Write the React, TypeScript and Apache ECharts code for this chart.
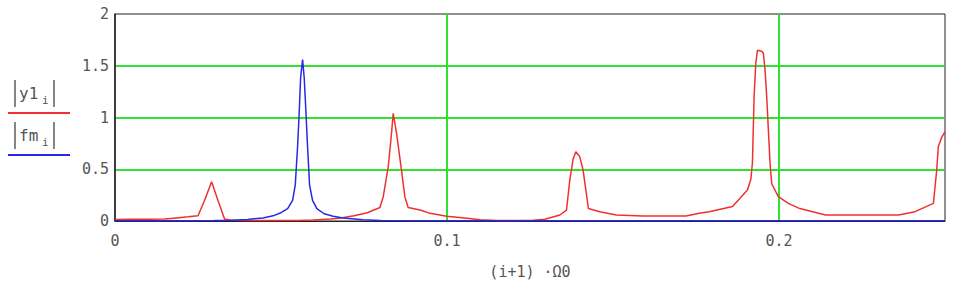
import React, { useEffect, useRef } from "react";
import * as echarts from "echarts";

// |y1_i| (red) sample positions and magnitudes
const y1X = [
  0, 0.005, 0.01, 0.015, 0.0185, 0.022, 0.025, 0.027, 0.0291, 0.031, 0.033, 0.035, 0.04, 0.045, 0.05, 0.055,
  0.0597, 0.065, 0.068, 0.072, 0.076, 0.0798, 0.0808, 0.0823, 0.0833, 0.0838, 0.0848, 0.0863, 0.0873, 0.0883,
  0.0919, 0.0949, 0.0999, 0.106, 0.11, 0.115, 0.12, 0.126, 0.1295, 0.134, 0.136, 0.137, 0.138, 0.1388, 0.14,
  0.141, 0.1426, 0.146, 0.151, 0.159, 0.172, 0.176, 0.179, 0.186, 0.1905, 0.1915, 0.192, 0.1925, 0.193, 0.1935,
  0.1948, 0.1953, 0.1958, 0.1963, 0.1968, 0.1973, 0.1978, 0.1998, 0.2028, 0.2063, 0.214, 0.236, 0.241, 0.2465,
  0.2475, 0.248, 0.249, 0.25,
];
const y1Y = [
  0.015, 0.016, 0.017, 0.02, 0.03, 0.04, 0.05, 0.2, 0.38, 0.2, 0.02, 0.008, 0.006, 0.005, 0.005, 0.006,
  0.01, 0.02, 0.03, 0.05, 0.08, 0.13, 0.235, 0.525, 0.85, 1.04, 0.85, 0.49, 0.235, 0.13,
  0.106, 0.074, 0.045, 0.026, 0.012, 0.006, 0.005, 0.007, 0.016, 0.058, 0.106, 0.4, 0.6, 0.67, 0.62,
  0.49, 0.12, 0.09, 0.058, 0.048, 0.048, 0.074, 0.09, 0.14, 0.3, 0.4, 0.56, 1.2, 1.52, 1.65,
  1.64, 1.62, 1.46, 1.2, 0.88, 0.56, 0.36, 0.235, 0.17, 0.12, 0.058, 0.058, 0.09, 0.17,
  0.49, 0.72, 0.81, 0.86,
];

// |fm_i| (blue)
const fmX = [
  0, 0.01, 0.02, 0.03, 0.035, 0.04, 0.0446, 0.0476, 0.05, 0.052, 0.0535, 0.0543, 0.055, 0.0555, 0.0559, 0.0565,
  0.057, 0.0575, 0.058, 0.0586, 0.0595, 0.0608, 0.063, 0.0657, 0.0687, 0.0747, 0.08, 0.09, 0.1, 0.15, 0.2, 0.25,
];
const fmY = [
  0.003, 0.003, 0.003, 0.004, 0.008, 0.015, 0.03, 0.05, 0.08, 0.12, 0.2, 0.35, 0.72, 1.06, 1.38, 1.56,
  1.38, 1.06, 0.72, 0.35, 0.2, 0.12, 0.07, 0.045, 0.03, 0.012, 0.005, 0.003, 0.002, 0.002, 0.002, 0.002,
];

const xTicks = { min: 0, max: 0.25, interval: 0.1 };
const yTicks = { min: 0, max: 2, interval: 0.5 };
const xTitle = "(i+1) ·Ω0";

const GREEN = "#33e133";
const RED = "#f03030";
const BLUE = "#2828e6";
const TXT = "#555555";
const MONO = "'DejaVu Sans Mono', monospace";
const CLEAR = "rgba(0,0,0,0)";

export default function App() {
  const ref = useRef<HTMLDivElement>(null);
  useEffect(() => {
    document.body.style.margin = "0";
    const chart = echarts.init(ref.current!, null, { renderer: "svg" });
    const legendItem = (label: string, y: number, color: string) => [
      { type: "line", shape: { x1: 15, y1: y - 13, x2: 15, y2: y + 14 }, style: { stroke: "#444", lineWidth: 1.3 } },
      {
        type: "text",
        x: 19,
        y: y,
        style: { text: label, font: `16px ${MONO}`, fill: TXT, verticalAlign: "middle", textAlign: "left" },
      },
      {
        type: "text",
        x: 42,
        y: y + 7,
        style: { text: "i", font: `11px ${MONO}`, fill: TXT, verticalAlign: "middle", textAlign: "left" },
      },
      { type: "line", shape: { x1: 54, y1: y - 13, x2: 54, y2: y + 14 }, style: { stroke: "#444", lineWidth: 1.3 } },
      { type: "line", shape: { x1: 8, y1: y + 20, x2: 70, y2: y + 20 }, style: { stroke: color, lineWidth: 2 } },
    ];
    chart.setOption({
      animation: false,
      backgroundColor: "#ffffff",
      grid: { left: 115, right: 30, top: 14, bottom: 64, show: true, borderColor: "#222", borderWidth: 1 },
      xAxis: {
        type: "value",
        ...xTicks,
        name: xTitle,
        nameLocation: "middle",
        nameGap: 43,
        nameTextStyle: { fontFamily: MONO, fontSize: 15, color: TXT },
        axisLine: { show: true, onZero: false, lineStyle: { color: "#222", width: 1 } },
        axisTick: { show: false },
        axisLabel: {
          fontFamily: MONO,
          fontSize: 15,
          color: TXT,
          margin: 12,
          showMaxLabel: false,
          formatter: (v: number) => String(+v.toFixed(2)),
        },
        splitLine: { show: true, lineStyle: { color: [CLEAR, GREEN, GREEN], width: 2 } },
      },
      yAxis: {
        type: "value",
        ...yTicks,
        axisLine: { show: true, lineStyle: { color: "#222", width: 1.5 } },
        axisTick: { show: false },
        axisLabel: { fontFamily: MONO, fontSize: 15, color: TXT, margin: 6, formatter: (v: number) => String(v) },
        splitLine: { show: true, lineStyle: { color: [CLEAR, GREEN, GREEN, GREEN, CLEAR], width: 2 } },
      },
      graphic: [...legendItem("y1", 93, RED), ...legendItem("fm", 135, BLUE)],
      series: [
        {
          type: "line",
          name: "|y1_i|",
          showSymbol: false,
          data: y1X.map((x, i) => [x, y1Y[i]]),
          lineStyle: { color: RED, width: 1.5 },
          z: 3,
        },
        {
          type: "line",
          name: "|fm_i|",
          showSymbol: false,
          data: fmX.map((x, i) => [x, fmY[i]]),
          lineStyle: { color: BLUE, width: 1.5 },
          z: 4,
        },
      ],
    });
    return () => chart.dispose();
  }, []);
  return <div ref={ref} style={{ width: 975, height: 285 }} />;
}
